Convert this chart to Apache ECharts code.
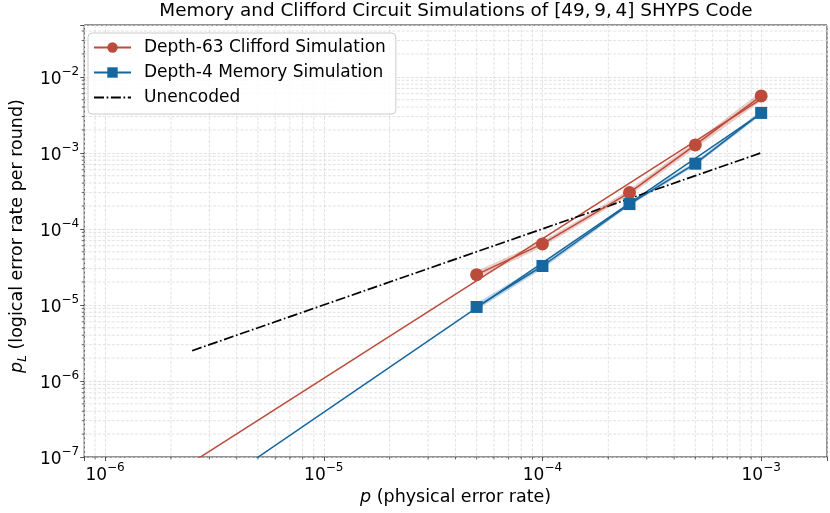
<!DOCTYPE html>
<html>
<head>
<meta charset="utf-8">
<script src="https://cdn.jsdelivr.net/npm/echarts@6/dist/echarts.min.js"></script>
<style>
html, body { margin: 0; padding: 0; background: #fff; }
#chart { width: 830px; height: 513px; }
</style>
</head>
<body>
<div id="chart"></div>
<script>
// values
const physRates = [5e-5, 1e-4, 2.5e-4, 5e-4, 1e-3];

const cliffordRates = [2.5e-5, 6.35e-5, 3.0e-4, 1.27e-3, 5.6e-3];
const cliffordLow = [2.25e-5, 5.8e-5, 2.75e-4, 1.15e-3, 4.8e-3];
const cliffordHigh = [2.8e-5, 6.9e-5, 3.3e-4, 1.4e-3, 6.4e-3];

const memoryRates = [9.4e-6, 3.25e-5, 2.12e-4, 7.2e-4, 3.35e-3];
const memoryLow = [8.6e-6, 3.0e-5, 2.0e-4, 6.8e-4, 3.15e-3];
const memoryHigh = [1.05e-5, 3.5e-5, 2.25e-4, 7.7e-4, 3.6e-3];

// fitted power laws, end points
const fitX = [1e-6, 1e-3];
const cliffordFit = [1.58e-8, 5.1e-3];
const memoryFit = [4.2e-9, 3.3e-3];

const unencodedX = [2.5e-6, 1e-3];
const unencodedY = [2.5e-6, 1e-3];

const X_MIN = 8.03e-7, X_MAX = 2.0e-3;
const Y_MIN = 1e-7, Y_MAX = 4.8e-2;

const RED = "#bb4c3b";
const BLUE = "#16679f";
const FONT = "DejaVu Sans";
const GRID_COLOR = "#dadada";

const names = ["Depth-63 Clifford Simulation", "Depth-4 Memory Simulation", "Unencoded"];

function zip(xs, ys) {
    return xs.map((x, i) => [x, ys[i]]);
}

// minor ticks at 2..9 per decade
const minorItems = [];
for (let e = -8; e <= -1; e++) {
    for (let k = 2; k <= 9; k++) {
        const v = k * Math.pow(10, e);
        if (v > X_MIN && v < X_MAX) minorItems.push([v, Y_MIN, 0]);
        if (v > Y_MIN && v < Y_MAX) minorItems.push([X_MIN, v, 1]);
    }
}

function powLabel(v) {
    const e = Math.log10(v);
    const r = Math.round(e);
    if (Math.abs(e - r) > 1e-6) return "";
    return "{b|10}{e|" + (r < 0 ? "\u2212" : "") + Math.abs(r) + "}";
}

const labelRich = {
    b: { fontFamily: FONT, fontSize: 17, lineHeight: 22, verticalAlign: "bottom", color: "#000" },
    e: { fontFamily: FONT, fontSize: 12, lineHeight: 11, verticalAlign: "top", color: "#000" }
};

function bandRenderer(xs, lo, hi, color) {
    return function (params, api) {
        const pts = [];
        for (let i = 0; i < xs.length; i++) pts.push(api.coord([xs[i], lo[i]]));
        for (let i = xs.length - 1; i >= 0; i--) pts.push(api.coord([xs[i], hi[i]]));
        return {
            type: "polygon",
            shape: { points: pts },
            style: { fill: color, opacity: 0.28 }
        };
    };
}

function minorRenderer(params, api) {
    const cs = params.coordSys;
    const p = api.coord([api.value(0), api.value(1)]);
    const dash = { stroke: GRID_COLOR, lineWidth: 0.8, lineDash: [3, 1.6] };
    const tick = { stroke: "#262626", lineWidth: 0.7 };
    if (api.value(2) === 0) {
        const x = p[0];
        return {
            type: "group",
            children: [
                { type: "line", shape: { x1: x, y1: cs.y, x2: x, y2: cs.y + cs.height }, style: dash },
                { type: "line", shape: { x1: x, y1: cs.y + cs.height, x2: x, y2: cs.y + cs.height + 2.5 }, style: tick }
            ]
        };
    }
    const y = p[1];
    return {
        type: "group",
        children: [
            { type: "line", shape: { x1: cs.x, y1: y, x2: cs.x + cs.width, y2: y }, style: dash },
            { type: "line", shape: { x1: cs.x - 2.5, y1: y, x2: cs.x, y2: y }, style: tick }
        ]
    };
}

const chart = echarts.init(document.getElementById("chart"), null, { renderer: "canvas" });

chart.setOption({
    animation: false,
    backgroundColor: "#fff",
    title: {
        text: "Memory and Clifford Circuit Simulations of [49,\u20099,\u20094] SHYPS Code",
        left: 451,
        textAlign: "center",
        top: 0,
        padding: [2, 5],
        textStyle: { fontFamily: FONT, fontSize: 18.4, fontWeight: "normal", color: "#000" }
    },
    legend: {
        data: [
            names[0],
            names[1],
            { name: names[2], itemStyle: { opacity: 0 } }
        ],
        orient: "vertical",
        left: 88,
        top: 33,
        itemWidth: 37,
        itemHeight: 13,
        itemGap: 8,
        padding: [6, 10, 8, 5],
        backgroundColor: "rgba(255,255,255,0.85)",
        borderColor: "#cccccc",
        borderWidth: 1,
        borderRadius: 4,
        textStyle: { fontFamily: FONT, fontSize: 17, color: "#000", padding: [0, 0, 0, 8] }
    },
    grid: {
        left: 79, top: 25, right: 3, bottom: 56,
        show: true, borderColor: "#262626", borderWidth: 1, backgroundColor: "transparent"
    },
    xAxis: {
        type: "log",
        logBase: 10,
        min: X_MIN,
        max: X_MAX,
        name: "{i|p}{n| (physical error rate)}",
        nameLocation: "middle",
        nameGap: 29,
        nameTextStyle: {
            rich: {
                i: { fontFamily: FONT, fontSize: 17.5, fontStyle: "italic", color: "#000" },
                n: { fontFamily: FONT, fontSize: 17.5, color: "#000" }
            }
        },
        axisLine: { show: false },
        axisTick: { show: true, inside: false, length: 4, lineStyle: { color: "#262626", width: 0.8 } },
        axisLabel: { formatter: powLabel, rich: labelRich, margin: 5 },
        splitLine: { show: true, lineStyle: { color: GRID_COLOR, width: 0.8, type: [3, 1.6] } }
    },
    yAxis: {
        type: "log",
        logBase: 10,
        min: Y_MIN,
        max: Y_MAX,
        name: "{i|p}{s|L}{n| (logical error rate per round)}",
        nameLocation: "middle",
        nameGap: 55,
        nameTextStyle: {
            padding: [0, 0, 0, 10],
            rich: {
                i: { fontFamily: FONT, fontSize: 17.5, fontStyle: "italic", lineHeight: 21, verticalAlign: "top", color: "#000" },
                s: { fontFamily: FONT, fontSize: 12, fontStyle: "italic", lineHeight: 9, verticalAlign: "bottom", color: "#000" },
                n: { fontFamily: FONT, fontSize: 17.5, lineHeight: 21, verticalAlign: "top", color: "#000" }
            }
        },
        axisLine: { show: false },
        axisTick: { show: true, inside: false, length: 4, lineStyle: { color: "#262626", width: 0.8 } },
        axisLabel: { formatter: powLabel, rich: labelRich, margin: 5 },
        splitLine: { show: true, lineStyle: { color: GRID_COLOR, width: 0.8, type: [3, 1.6] } }
    },
    series: [
        {
            type: "custom",
            name: "minor",
            silent: true,
            z: 0,
            data: minorItems,
            encode: { x: 0, y: 1 },
            renderItem: minorRenderer
        },
        {
            type: "custom",
            name: "cliffordBand",
            silent: true,
            z: 1,
            data: [[physRates[0], cliffordRates[0]]],
            renderItem: bandRenderer(physRates, cliffordLow, cliffordHigh, RED)
        },
        {
            type: "custom",
            name: "memoryBand",
            silent: true,
            z: 1,
            data: [[physRates[0], memoryRates[0]]],
            renderItem: bandRenderer(physRates, memoryLow, memoryHigh, BLUE)
        },
        {
            type: "line",
            name: "cliffordFit",
            data: zip(fitX, cliffordFit),
            showSymbol: false,
            silent: true,
            z: 2,
            lineStyle: { color: RED, width: 1.5 },
            itemStyle: { color: RED }
        },
        {
            type: "line",
            name: "memoryFit",
            data: zip(fitX, memoryFit),
            showSymbol: false,
            silent: true,
            z: 2,
            lineStyle: { color: BLUE, width: 1.5 },
            itemStyle: { color: BLUE }
        },
        {
            type: "line",
            name: names[2],
            data: zip(unencodedX, unencodedY),
            showSymbol: false,
            z: 3,
            lineStyle: { color: "#000", width: 1.7, type: [10, 2.6, 1.7, 2.6] },
            itemStyle: { color: "#000" }
        },
        {
            type: "line",
            name: names[0],
            data: zip(physRates, cliffordRates),
            symbol: "circle",
            symbolSize: 13,
            z: 4,
            lineStyle: { color: RED, width: 1.5 },
            itemStyle: { color: RED }
        },
        {
            type: "line",
            name: names[1],
            data: zip(physRates, memoryRates),
            symbol: "rect",
            symbolSize: 12,
            z: 4,
            lineStyle: { color: BLUE, width: 1.5 },
            itemStyle: { color: BLUE }
        }
    ]
});
</script>
</body>
</html>
